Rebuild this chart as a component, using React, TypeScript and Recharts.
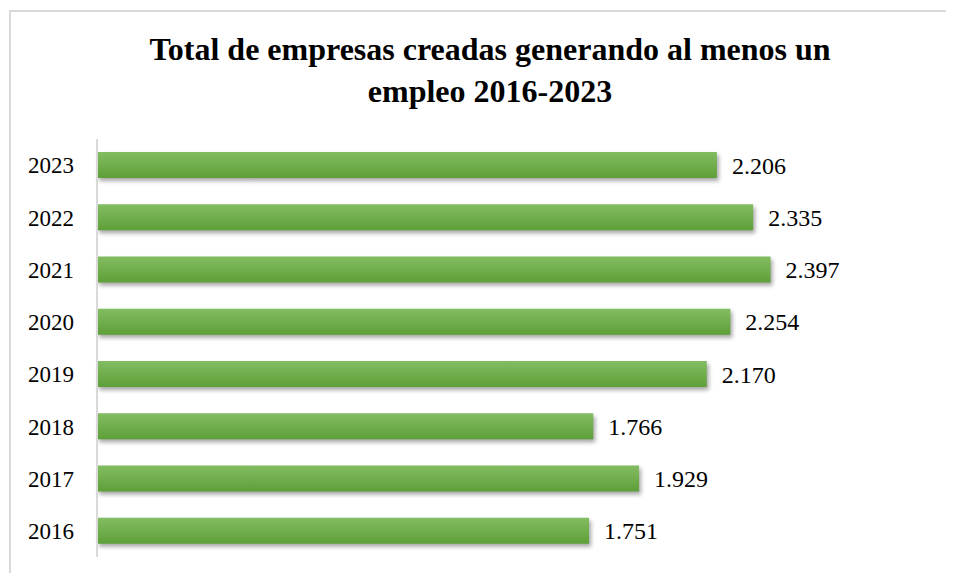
import React from "react";
import { BarChart, Bar, XAxis, YAxis, LabelList } from "recharts";

const years = ["2023", "2022", "2021", "2020", "2019", "2018", "2017", "2016"];
const empresas = [2206, 2335, 2397, 2254, 2170, 1766, 1929, 1751];
const titleLines = ["Total de empresas creadas generando al menos un", "empleo 2016-2023"];

const data = years.map((y, i) => ({ year: y, value: empresas[i] }));

const fmt = (v: number) => {
  const s = String(v);
  return s.replace(/\B(?=(\d{3})+(?!\d))/g, ".");
};

const FONT = "Liberation Serif, Times New Roman, serif";

const ShadowBar = (props: any) => {
  const { x, y, width, height } = props;
  if (!width || !height) return null;
  return (
    <g>
      <rect x={x + 2} y={y + 3} width={width} height={height} fill="#000" opacity={0.35} filter="url(#blurShadow)" />
      <rect x={x} y={y} width={width} height={height} fill="url(#barGrad)" />
    </g>
  );
};

export default function App() {
  return (
    <div style={{ position: "relative", width: 938, height: 565, overflow: "hidden", background: "#fff" }}>
      <div
        style={{
          position: "absolute",
          left: 1,
          top: 2,
          width: 1200,
          height: 1000,
          border: "2px solid #d9d9d9",
          boxSizing: "border-box",
        }}
      />
      <div
        style={{
          position: "absolute",
          left: 0,
          width: 964,
          top: 20,
          textAlign: "center",
          fontFamily: FONT,
          fontWeight: "bold",
          fontSize: 32,
          lineHeight: "42px",
          color: "#000",
        }}
      >
        {titleLines.map((t) => (
          <div key={t}>{t}</div>
        ))}
      </div>
      <div style={{ position: "absolute", left: 0, top: 0 }}>
        <BarChart
          width={932}
          height={565}
          data={data}
          layout="vertical"
          margin={{ top: 131, right: 0, bottom: 16, left: 0 }}
        >
          <defs>
            <linearGradient id="barGrad" x1="0" y1="0" x2="0" y2="1">
              <stop offset="0%" stopColor="#83bd62" />
              <stop offset="100%" stopColor="#5e9f38" />
            </linearGradient>
            <filter id="blurShadow" x="-10%" y="-50%" width="120%" height="200%">
              <feGaussianBlur stdDeviation="2" />
            </filter>
          </defs>
          <XAxis type="number" domain={[0, 3000]} hide />
          <YAxis
            type="category"
            dataKey="year"
            width={89}
            axisLine={{ stroke: "#d9d9d9", strokeWidth: 2 }}
            tickLine={false}
            tick={{ fill: "#000", fontFamily: FONT, fontSize: 23 }}
            tickMargin={17}
          />
          <Bar dataKey="value" barSize={26} shape={ShadowBar} isAnimationActive={false}>
            <LabelList
              dataKey="value"
              position="right"
              offset={15}
              formatter={(v: any) => fmt(Number(v))}
              style={{ fill: "#000", fontFamily: FONT, fontSize: 24 }}
            />
          </Bar>
        </BarChart>
      </div>
    </div>
  );
}
